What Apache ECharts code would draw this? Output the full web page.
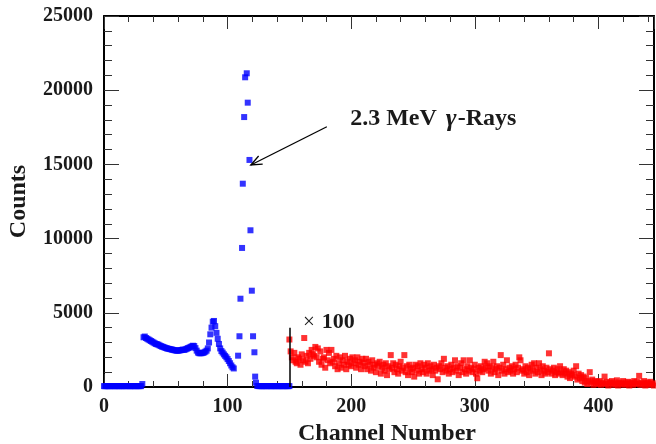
<!DOCTYPE html>
<html>
<head>
<meta charset="utf-8">
<script src="https://cdn.jsdelivr.net/npm/echarts@6/dist/echarts.min.js"></script>
<style>
html,body{margin:0;padding:0;background:#fff;}
#chart{width:656px;height:444px;}
</style>
</head>
<body>
<div id="chart"></div>
<script>
// ---- Data ----
// Blue: channels 0..107 (integer channels starting at 0)
var blueLowStart = 0;
var blueLowCounts = [
  60,55,62,58,60,57,63,59,61,56,60,62,58,61,57,60,59,63,58,60,62,57,61,59,60,58,62,60,57,61,59,200,
  3350,3400,3300,3250,3200,3150,3100,3050,3000,2950,2900,2880,2850,2800,2760,2720,2700,2660,2630,2600,
  2580,2560,2540,2520,2500,2480,2460,2450,2450,2460,2480,2500,2520,2500,2540,2580,2620,2650,2700,2740,
  2780,2760,2620,2450,2320,2280,2270,2280,2300,2330,2380,2450,2600,3000,3550,4000,4400,4450,4100,3650,
  3250,2900,2600,2420,2320,2200,2100,2000,1880,1750,1600,1450,1330,1250
];
// Blue: the 2.3 MeV peak
var bluePeakChannels = [108.5,109.6,110.4,111.7,112.3,113.4,114.2,115.5,116.3,117.7,118.5,119.6,120.6,121.7,122.3,123.0];
var bluePeakCounts   = [2110,3420,5950,9370,13700,18190,20870,21140,19160,15300,10560,6490,3420,2340,700,290];
// Blue: tail channels 124..150
var blueTailStart = 124;
var blueTailCounts = [70,62,58,60,57,61,59,60,58,62,60,57,61,59,60,58,62,60,57,61,59,60,58,62,60,57,61];

// Red (x100): channels 150..447
var redStart = 150;
var redCounts = [
  3200,2400,2000,1800,2300,1700,1600,2000,1900,1500,
  2200,1800,3300,1700,2100,1600,2300,1900,2500,2200,
  2100,2700,2000,2600,1700,2400,1500,1900,2000,1300,
  2500,1800,2300,1600,2500,1700,1900,1400,2100,1200,
  1600,2000,1300,1800,1500,2100,1200,1700,1500,1900,
  1400,2000,1600,1800,1300,2000,1500,1700,1200,1900,
  1600,1400,1900,1200,1700,1500,1100,1800,1300,1500,
  1000,1600,1400,1700,900,1300,1500,1100,1600,800,
  1400,1200,2150,1300,1600,1000,1500,1200,900,1400,
  1700,1100,1300,2150,1000,1400,800,1500,1200,1000,
  1300,700,1500,1100,1400,900,1600,1200,1000,1500,
  1300,900,1600,1100,1400,1200,800,1500,1100,1300,
  520,1400,1200,1600,1000,1900,1300,1100,1400,900,
  1200,1500,1000,1300,1800,1100,1400,800,1300,1600,
  1000,1800,1200,900,1400,1100,1800,1300,1000,1200,
  1500,900,590,1300,1100,1400,1000,1200,1700,1300,
  1600,1100,1400,900,1300,1700,1000,1200,1400,800,
  1300,2150,1100,1500,900,1200,1800,1000,1300,1100,
  1400,900,1200,1500,1000,1300,2000,1800,1100,1200,
  900,1400,1000,1300,800,1200,1500,1100,1600,900,
  1300,1000,1600,1200,800,1400,1100,900,1300,1000,
  2270,1200,900,1100,1300,800,1000,1200,900,1400,
  1000,800,1200,900,1100,700,1000,600,900,800,
  1100,700,1400,500,900,600,800,400,700,300,
  600,200,400,1000,300,500,150,400,250,350,
  200,400,150,300,250,700,200,350,100,300,
  250,400,150,300,200,450,100,300,250,200,
  400,150,300,200,350,100,250,300,150,400,
  200,350,250,750,150,300,200,400,100,250,
  300,150,350,200,250,100,300,200
];

// Axis ticks / labels
var xMin = 0, xMax = 445, xMajor = 100, xMinor = 20;
var yMin = 0, yMax = 25000, yMajor = 5000;

// Annotations (data coordinates)
var markerLineCoords = [[150, 0], [150, 4000]];

// ---- Build series data ----
var blueData = [];
blueLowCounts.forEach(function (v, i) { blueData.push([blueLowStart + i, v]); });
bluePeakChannels.forEach(function (c, i) { blueData.push([c, bluePeakCounts[i]]); });
blueTailCounts.forEach(function (v, i) { blueData.push([blueTailStart + i, v]); });
var redData = redCounts.map(function (v, i) { return [redStart + i, v]; });

var FONT = "'Liberation Serif','Times New Roman',serif";
var TXT = '#1a1a1a';

function xAx(pos, interval, tickLen, showLine, showLabel) {
  return {
    type: 'value', position: pos, min: xMin, max: xMax, interval: interval,
    axisLine: { show: showLine, onZero: false, lineStyle: { color: '#000', width: 2 } },
    axisTick: { show: true, inside: true, length: tickLen, lineStyle: { color: '#333', width: 1 } },
    axisLabel: {
      show: showLabel, margin: 10, color: TXT, fontFamily: FONT, fontWeight: 'bold', fontSize: 20,
      showMaxLabel: false,
      formatter: function (v) { return (v % xMajor === 0) ? String(v) : ''; }
    },
    splitLine: { show: false },
    name: (pos === 'bottom' && showLabel) ? 'Channel Number' : '',
    nameLocation: 'middle', nameGap: 32,
    nameTextStyle: { color: TXT, fontFamily: FONT, fontWeight: 'bold', fontSize: 24, padding: [0, 0, 0, 16] }
  };
}
function yAx(pos, showLabel) {
  return {
    type: 'value', position: pos, min: yMin, max: yMax, interval: yMajor,
    axisLine: { show: true, onZero: false, lineStyle: { color: '#000', width: 2 } },
    axisTick: { show: true, inside: true, length: 15, lineStyle: { color: '#333', width: 1 } },
    minorTick: { show: true, splitNumber: 5, length: 8, lineStyle: { color: '#333', width: 1 } },
    axisLabel: {
      show: showLabel, margin: 11, color: TXT, fontFamily: FONT, fontWeight: 'bold', fontSize: 20,
      formatter: function (v) { return String(v); }
    },
    splitLine: { show: false }, minorSplitLine: { show: false },
    name: showLabel ? 'Counts' : '',
    nameLocation: 'middle', nameGap: 73, nameRotate: 90,
    nameTextStyle: { color: TXT, fontFamily: FONT, fontWeight: 'bold', fontSize: 24 }
  };
}

var chart = echarts.init(document.getElementById('chart'), null, { renderer: 'canvas' });
chart.setOption({
  animation: false,
  backgroundColor: '#fff',
  grid: { left: 104, right: 2, top: 16, bottom: 57, containLabel: false, outerBoundsMode: 'none' },
  xAxis: [
    xAx('bottom', xMajor, 13, true, true),
    xAx('bottom', xMinor, 6, false, false),
    xAx('top', xMajor, 13, true, false),
    xAx('top', xMinor, 6, false, false)
  ],
  yAxis: [yAx('left', true), yAx('right', false)],
  series: [
    {
      type: 'scatter', name: 'blue', xAxisIndex: 0, yAxisIndex: 0,
      symbol: 'rect', symbolSize: 6, data: blueData,
      itemStyle: { color: '#0000ff' }, z: 3
    },
    {
      type: 'scatter', name: 'red', xAxisIndex: 0, yAxisIndex: 0,
      symbol: 'rect', symbolSize: 6, data: redData,
      itemStyle: { color: '#ff0000' }, z: 3,
      markLine: {
        silent: true, symbol: ['none', 'none'], animation: false,
        lineStyle: { color: '#000', width: 1.5, type: 'solid' },
        label: { show: false },
        data: [[{ coord: markerLineCoords[0] }, { coord: markerLineCoords[1] }]]
      }
    }
  ]
});

function drawAnnotations() {
  var P = function (c) { return chart.convertToPixel({ xAxisIndex: 0, yAxisIndex: 0 }, c); };
  var a0 = P([180.3, 17540]);   // arrow tail
  var a1 = P([118.8, 14960]);   // arrow head
  var dx = a1[0] - a0[0], dy = a1[1] - a0[1];
  var L = Math.sqrt(dx * dx + dy * dy), ux = dx / L, uy = dy / L;
  var hl = 11, hw = 4.5;
  var h1 = [a1[0] - ux * hl - uy * hw, a1[1] - uy * hl + ux * hw];
  var h2 = [a1[0] - ux * hl + uy * hw, a1[1] - uy * hl - ux * hw];
  var t = P([199.2, 18060]);
  var m = P([161, 4380]);
  chart.setOption({
    graphic: [
      { type: 'line', shape: { x1: a0[0], y1: a0[1], x2: a1[0], y2: a1[1] }, style: { stroke: '#000', lineWidth: 1.3 }, z: 10 },
      { type: 'polyline', shape: { points: [h1, a1, h2] }, style: { stroke: '#000', lineWidth: 1.3, fill: null }, z: 10 },
      {
        type: 'text', x: t[0], y: t[1], z: 10,
        style: {
          text: '{a|2.3 MeV }{g|γ}{a|-Rays}', verticalAlign: 'middle', align: 'left',
          rich: {
            a: { fontFamily: FONT, fontWeight: 'bold', fontSize: 24, fill: TXT, color: TXT },
            g: { fontFamily: FONT, fontWeight: 'bold', fontStyle: 'italic', fontSize: 26, fill: TXT, color: TXT, padding: [0, 1, 0, 3] }
          }
        }
      },
      {
        type: 'text', x: m[0], y: m[1], z: 10,
        style: {
          text: '{x|×}{n|100}', verticalAlign: 'middle', align: 'left',
          rich: {
            x: { fontFamily: FONT, fontSize: 21, fill: TXT, color: TXT, padding: [0, 7, 0, 0] },
            n: { fontFamily: FONT, fontWeight: 'bold', fontSize: 22, fill: TXT, color: TXT }
          }
        }
      }
    ]
  });
}
drawAnnotations();
</script>
</body>
</html>
